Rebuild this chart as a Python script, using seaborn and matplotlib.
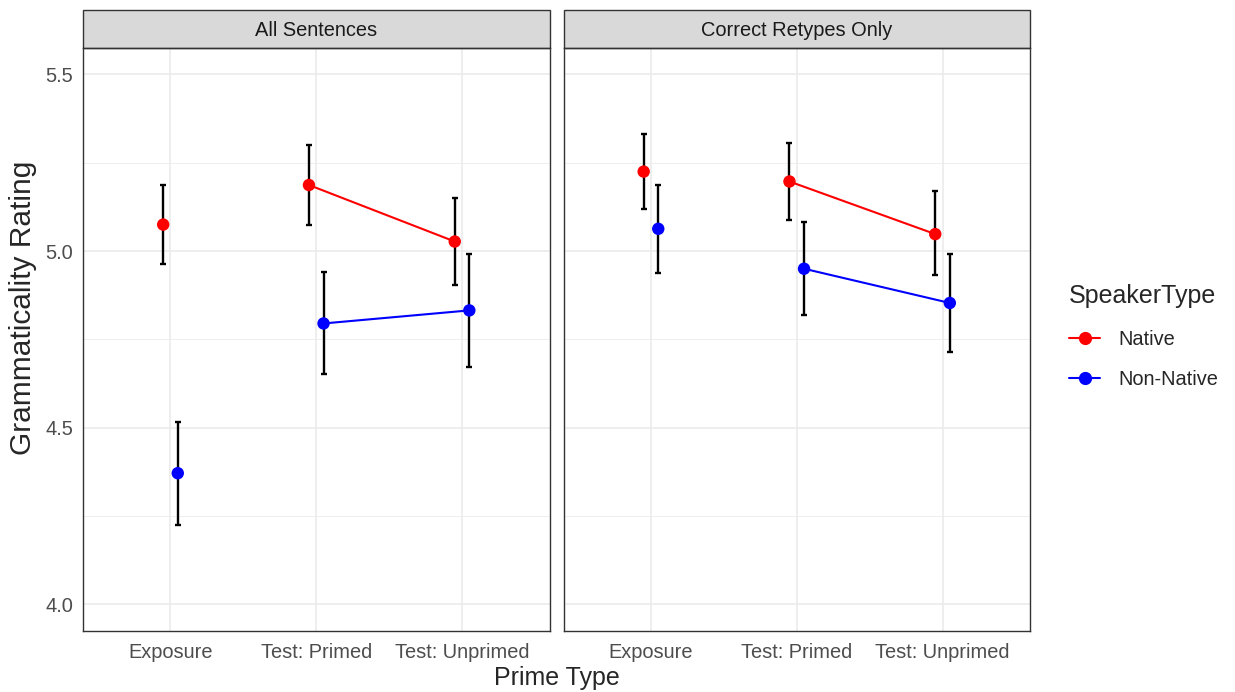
import numpy as np
import pandas as pd
import matplotlib
matplotlib.use("Agg")
import matplotlib.pyplot as plt
from matplotlib.lines import Line2D
from matplotlib.patches import Rectangle
import seaborn as sns

# Données
panels = ["All Sentences", "Correct Retypes Only"]
prime_types = ["Exposure", "Test: Primed", "Test: Unprimed"]
speakers = ["Native", "Non-Native"]

all_native = [5.075, 5.187, 5.027]
all_native_lo = [4.963, 5.075, 4.905]
all_native_hi = [5.187, 5.300, 5.150]
all_nonnative = [4.371, 4.795, 4.832]
all_nonnative_lo = [4.224, 4.653, 4.673]
all_nonnative_hi = [4.515, 4.940, 4.991]

cor_native = [5.225, 5.197, 5.048]
cor_native_lo = [5.118, 5.088, 4.932]
cor_native_hi = [5.332, 5.306, 5.169]
cor_nonnative = [5.063, 4.950, 4.853]
cor_nonnative_lo = [4.938, 4.818, 4.713]
cor_nonnative_hi = [5.188, 5.083, 4.993]

rows = []
series = [
    ("All Sentences", "Native", all_native, all_native_lo, all_native_hi),
    ("All Sentences", "Non-Native", all_nonnative, all_nonnative_lo, all_nonnative_hi),
    ("Correct Retypes Only", "Native", cor_native, cor_native_lo, cor_native_hi),
    ("Correct Retypes Only", "Non-Native", cor_nonnative, cor_nonnative_lo, cor_nonnative_hi),
]
for panel, spk, m, lo, hi in series:
    for p, mm, l, h in zip(prime_types, m, lo, hi):
        rows.append({"Panel": panel, "PrimeType": p, "SpeakerType": spk,
                     "mean": mm, "lo": l, "hi": h})
df = pd.DataFrame(rows)

dodge = {"Native": -0.05, "Non-Native": 0.05}
df["x"] = df["PrimeType"].map({p: i for i, p in enumerate(prime_types)}) + df["SpeakerType"].map(dodge)

palette = {"Native": "red", "Non-Native": "blue"}

sns.set_style("white")
plt.rcParams["font.family"] = ["Liberation Sans", "DejaVu Sans"]

fig = plt.figure(figsize=(12.35, 6.92), dpi=100)
W, H = 1235, 692
top_px, bot_px = 48, 630.7
lefts = [83, 563.5]
rights = [549.5, 1030]
axes = []
for i in range(2):
    ax = fig.add_axes([lefts[i] / W, 1 - bot_px / H, (rights[i] - lefts[i]) / W, (bot_px - top_px) / H])
    axes.append(ax)

strip_h = 38 / (bot_px - top_px)

for ax, panel in zip(axes, panels):
    sub = df[df["Panel"] == panel]
    ax.errorbar(sub["x"], sub["mean"], yerr=[sub["mean"] - sub["lo"], sub["hi"] - sub["mean"]],
                fmt="none", ecolor="black", elinewidth=1.7, capsize=2.3, capthick=1.7, zorder=3)
    test = sub[sub["PrimeType"] != "Exposure"]
    sns.lineplot(data=test, x="x", y="mean", hue="SpeakerType", palette=palette,
                 linewidth=1.5, legend=False, ax=ax, zorder=4)
    sns.scatterplot(data=sub, x="x", y="mean", hue="SpeakerType", palette=palette,
                    s=80, linewidth=0, legend=False, ax=ax, zorder=5)

    ax.set_xlim(-0.6, 2.6)
    ax.set_ylim(3.925, 5.575)
    ax.set_xticks(range(len(prime_types)))
    ax.set_xticklabels(prime_types)
    ax.set_yticks([4.0, 4.5, 5.0, 5.5])
    ax.set_yticks([4.25, 4.75, 5.25], minor=True)
    ax.grid(which="major", color="#EBEBEB", linewidth=1.2)
    ax.grid(which="minor", axis="y", color="#EBEBEB", linewidth=0.6)
    ax.set_axisbelow(True)
    ax.set_xlabel("")
    ax.set_ylabel("")
    ax.tick_params(which="major", length=4, width=1, color="#333333",
                   labelsize=14.4, labelcolor="#4D4D4D", pad=3)
    ax.tick_params(axis="x", which="major", pad=5)
    ax.tick_params(which="minor", length=0)
    for s in ax.spines.values():
        s.set_color("#333333")
        s.set_linewidth(1)

    ax.add_patch(Rectangle((0, 1), 1, strip_h, transform=ax.transAxes, clip_on=False,
                           facecolor="#D9D9D9", edgecolor="#333333", linewidth=1))
    ax.text(0.5, 1 + strip_h / 2 - 0.002, panel, transform=ax.transAxes, ha="center", va="center",
            fontsize=14.4, color="#1A1A1A")

axes[0].set_yticklabels(["4.0", "4.5", "5.0", "5.5"])
axes[1].tick_params(axis="y", which="both", length=0, labelleft=False)

fig.text(23 / W, 1 - 308 / H, "Grammaticality Rating", rotation=90, ha="center", va="center", fontsize=21.5)
fig.text(556.5 / W, 1 - 678 / H, "Prime Type", ha="center", va="center", fontsize=18)

handles = [Line2D([], [], color=palette[s], marker="o", markersize=8.5, linewidth=1.5) for s in speakers]
leg = fig.legend(handles, speakers, title="SpeakerType", loc="upper left",
                 bbox_to_anchor=(1051 / W, 1 - 266 / H), frameon=False, fontsize=14.4,
                 title_fontsize=18, handlelength=1.55, handletextpad=0.93, labelspacing=1.08,
                 alignment="left")

fig.savefig("out.png", dpi=100)
